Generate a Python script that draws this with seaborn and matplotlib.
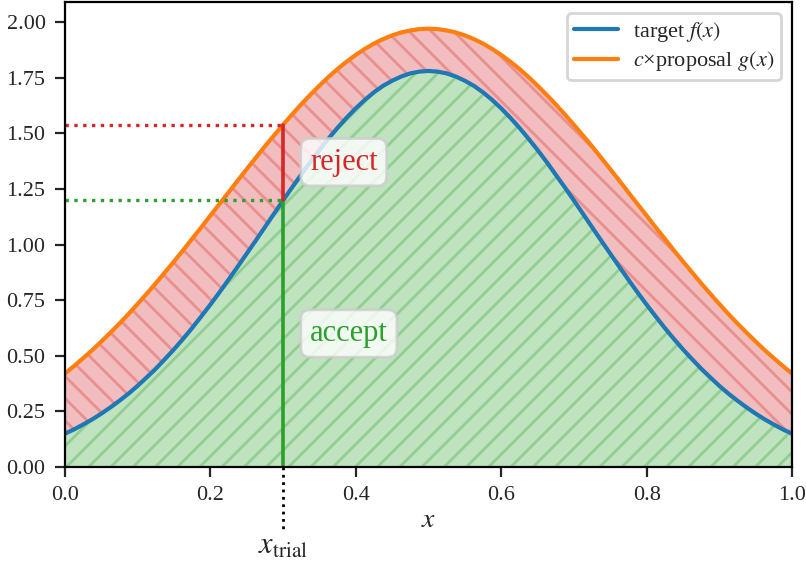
import matplotlib
matplotlib.use("Agg")
import matplotlib.pyplot as plt
import seaborn as sns
import numpy as np

# Sample grid on [0, 1]
x_vals = [round(0.0125 * i, 4) for i in range(81)]

# Target density f(x), symmetric hump peaking at x = 0.5 (left half listed)
f_half = [0.150, 0.169, 0.191, 0.214, 0.240, 0.268, 0.298, 0.330, 0.365, 0.403,
          0.442, 0.485, 0.529, 0.576, 0.625, 0.677, 0.730, 0.785, 0.842, 0.900,
          0.959, 1.018, 1.078, 1.138, 1.198, 1.257, 1.314, 1.371, 1.425, 1.476,
          1.525, 1.570, 1.612, 1.650, 1.684, 1.713, 1.736, 1.755, 1.769, 1.777,
          1.780]
f_vals = f_half + f_half[-2::-1]

# Scaled proposal c*g(x), an envelope above f (left half listed)
g_half = [0.420, 0.454, 0.489, 0.525, 0.564, 0.604, 0.645, 0.688, 0.733, 0.779,
          0.826, 0.875, 0.924, 0.974, 1.026, 1.077, 1.130, 1.182, 1.234, 1.287,
          1.339, 1.390, 1.441, 1.490, 1.538, 1.585, 1.630, 1.673, 1.714, 1.753,
          1.789, 1.822, 1.852, 1.879, 1.903, 1.923, 1.940, 1.953, 1.962, 1.968,
          1.970]
g_vals = g_half + g_half[-2::-1]

# Trial point and the curve heights there
x_trial = 0.3
f_trial = 1.198
g_trial = 1.538

sns.set_theme(style="ticks")
plt.rcParams["font.family"] = ["Liberation Serif", "DejaVu Serif"]
plt.rcParams["mathtext.fontset"] = "stix"
plt.rcParams["hatch.linewidth"] = 1.0

fig = plt.figure(figsize=(4.03, 2.815), dpi=200)
ax = fig.add_axes([0.0806, 0.1705, 0.902, 0.826])

x = np.array(x_vals)
f = np.array(f_vals)
g = np.array(g_vals)

# Accept / reject regions
ax.fill_between(x, 0, f, facecolor="tab:green", edgecolor="tab:green",
                alpha=0.3, hatch="///", linewidth=0)
ax.fill_between(x, f, g, facecolor="tab:red", edgecolor="tab:red",
                alpha=0.3, hatch="\\\\\\", linewidth=0)

sns.lineplot(x=x, y=f, ax=ax, color="tab:blue", lw=1.5, label=r"target $f(x)$")
sns.lineplot(x=x, y=g, ax=ax, color="tab:orange", lw=1.5,
             label=r"$c$×proposal $g(x)$")

# Vertical split at the trial point
ax.plot([x_trial, x_trial], [0, f_trial], color="tab:green", lw=1.3)
ax.plot([x_trial, x_trial], [f_trial, g_trial], color="tab:red", lw=1.3)
ax.plot([0, x_trial], [g_trial, g_trial], color="tab:red", lw=1.2, ls=":")
ax.plot([0, x_trial], [f_trial, f_trial], color="tab:green", lw=1.2, ls=":")

# Pointer below the axis to the trial value
ax.plot([x_trial, x_trial], [0, -0.29], color="black", lw=1.0, ls=":",
        clip_on=False)
ax.text(x_trial, -0.29, r"$x_{\rm trial}$", ha="center", va="top",
        fontsize=11, clip_on=False)

box = dict(boxstyle="round,pad=0.3", facecolor="white", edgecolor="0.8",
           alpha=0.8)
ax.text(0.337, 1.37, "reject", color="tab:red", fontsize=11, va="center",
        bbox=box)
ax.text(0.337, 0.60, "accept", color="tab:green", fontsize=11, va="center",
        bbox=box)

ax.set_xlim(0, 1)
ax.set_ylim(0, 2.09)
ax.set_yticks([0, 0.25, 0.5, 0.75, 1.0, 1.25, 1.5, 1.75, 2.0])
ax.set_yticklabels([f"{v:.2f}" for v in ax.get_yticks()])
ax.set_xticks([0, 0.2, 0.4, 0.6, 0.8, 1.0])
ax.set_xticklabels([f"{v:.1f}" for v in ax.get_xticks()])
ax.tick_params(labelsize=8, width=0.8, length=3.5)
ax.set_xlabel(r"$x$", fontsize=10, labelpad=1)
ax.set_ylabel("")
for s in ax.spines.values():
    s.set_visible(True)
    s.set_linewidth(0.8)
    s.set_color("black")

leg = ax.legend(loc="upper right", fontsize=8, frameon=True, framealpha=0.8,
                edgecolor="0.8", fancybox=True, labelspacing=0.25,
                borderpad=0.3, handletextpad=0.65, handlelength=2.0)

fig.savefig("out.png", dpi=200)
